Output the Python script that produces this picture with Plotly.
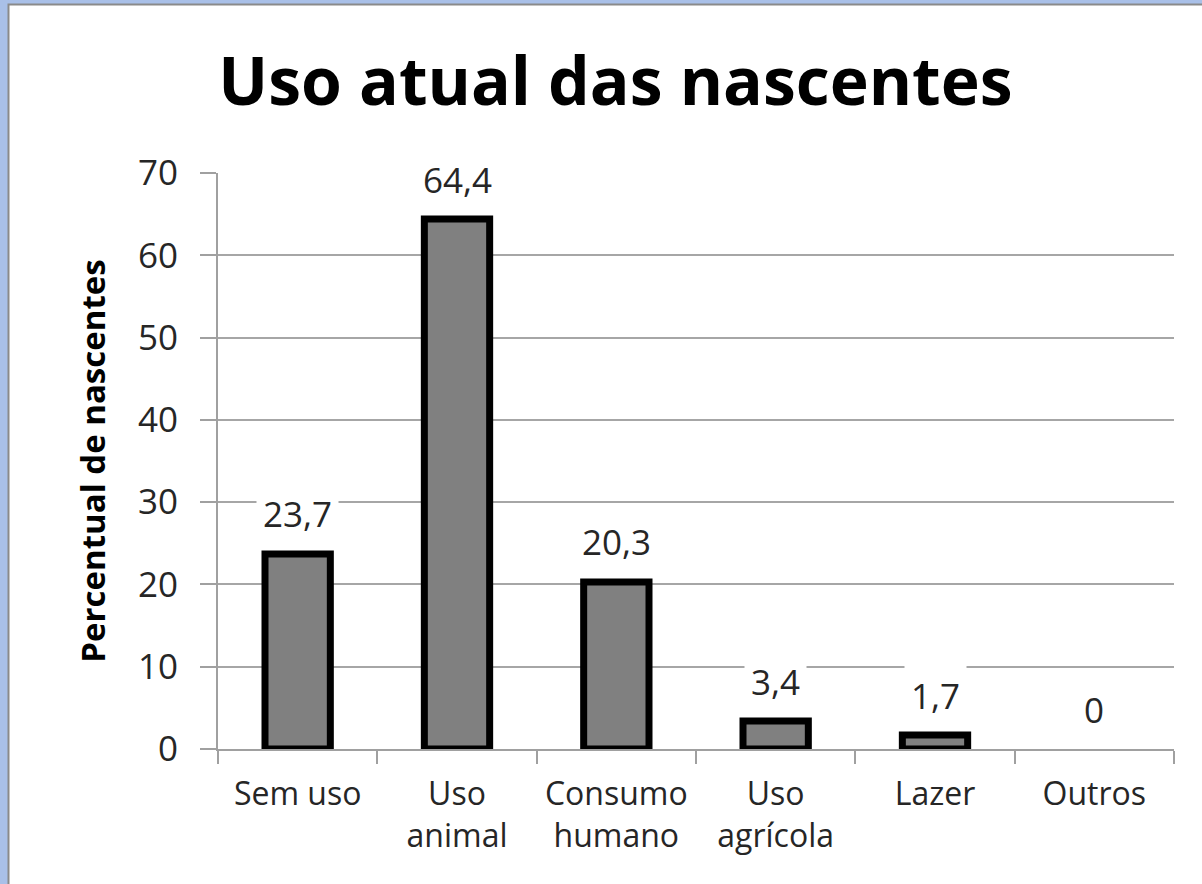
import plotly.graph_objects as go

categories = ["Sem uso", "Uso<br>animal", "Consumo<br>humano", "Uso<br>agrícola", "Lazer", "Outros"]
values = [23.7, 64.4, 20.3, 3.4, 1.7, 0]
labels = ["23,7", "64,4", "20,3", "3,4", "1,7", "0"]
y_ticks = [0, 10, 20, 30, 40, 50, 60, 70]

FONT = "Open Sans"
W, H = 1202, 884
ML, MR, MT, MB = 218, 28, 173, 135
PW, PH = W - ML - MR, H - MT - MB

def px_to_paper_x(px):
    return (px - ML) / PW

def px_to_paper_y(py):
    return (H - MB - py) / PH

fig = go.Figure()
fig.add_trace(go.Bar(
    x=categories, y=values,
    marker=dict(color="#808080",
                line=dict(color="#000000", width=[7 if v > 0 else 0 for v in values])),
    width=0.41,
    hoverinfo="skip",
))

for c, v, t in zip(categories, values, labels):
    fig.add_annotation(
        x=c, y=v, text=t, showarrow=False,
        yanchor="middle", yshift=40,
        font=dict(family=FONT, size=35, color="#262626"),
        bgcolor="white", borderpad=6,
    )

# white panel inside the blue frame
fig.add_shape(type="rect", xref="paper", yref="paper", layer="below",
              x0=px_to_paper_x(8.5), x1=px_to_paper_x(W + 5),
              y0=px_to_paper_y(H + 5), y1=px_to_paper_y(4.5),
              fillcolor="white", line=dict(color="#8a8a8a", width=2))

fig.update_layout(
    width=W, height=H,
    margin=dict(l=ML, r=MR, t=MT, b=MB),
    paper_bgcolor="#a9c0e8",
    plot_bgcolor="rgba(0,0,0,0)",
    showlegend=False,
    title=dict(text="<b>Uso atual das nascentes</b>", x=0.512, xanchor="center",
               y=1 - 82 / H, yanchor="middle",
               font=dict(family=FONT, size=66, color="#000000")),
    font=dict(family=FONT, color="#262626"),
)

fig.update_xaxes(
    type="category",
    showline=True, linecolor="#a0a0a0", linewidth=2,
    ticks="outside", tickson="boundaries", ticklen=13, tickcolor="#a0a0a0", tickwidth=2,
    ticklabelstandoff=16,
    tickfont=dict(family=FONT, size=32, color="#262626"),
    showgrid=False,
)
fig.update_yaxes(
    range=[0, 70], tickvals=y_ticks,
    showgrid=True, gridcolor="#a6a6a6", gridwidth=2,
    showline=True, linecolor="#a0a0a0", linewidth=2,
    ticks="outside", ticklen=16, tickcolor="#a0a0a0", tickwidth=2,
    ticklabelstandoff=15,
    tickfont=dict(family=FONT, size=35, color="#262626"),
    zeroline=False,
    title=dict(text="<b>Percentual de nascentes</b>", standoff=22,
               font=dict(family=FONT, size=33, color="#000000")),
)

fig.write_html("out.html", config={"displayModeBar": False},
               post_script="document.body.style.margin='0';document.body.style.background='#a9c0e8';")
